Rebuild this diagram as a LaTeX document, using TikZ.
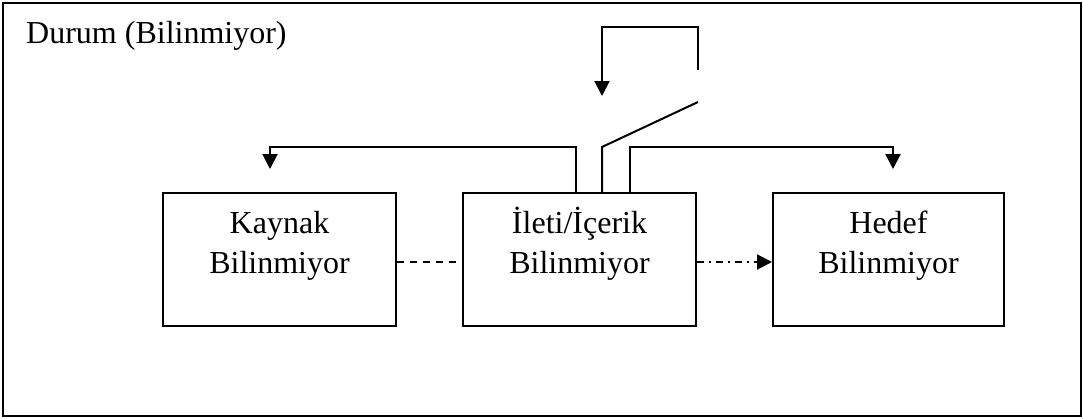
\documentclass[tikz,border=0pt]{standalone}
\usepackage{fontspec}
\setmainfont{Liberation Serif}
\usetikzlibrary{arrows.meta}
\begin{document}
\begin{tikzpicture}[x=1pt,y=-1pt,
  box/.style={draw,line width=2pt,minimum width=233pt,minimum height=133pt,inner sep=0pt},
  txt/.style={anchor=base,inner sep=0pt,font=\fontsize{32}{39}\selectfont},
  ln/.style={line width=2pt},
  tip/.style={-{Triangle[width=15pt,length=15pt]}}]
\useasboundingbox (0,0) rectangle (1083,418);
\draw[line width=2pt] (2.5,2.5) rectangle (1081,416);
\node[txt,anchor=base west] (title) at (26,43.5) {Durum (Bilinmiyor)};
\node[box] (src) at (279.5,259.5) {};
\node[box] (msg) at (579.5,259.5) {};
\node[box,minimum width=231pt] (dst) at (888.5,259.5) {};
\node[txt] (src1) at (279.5,233.5) {Kaynak};
\node[txt] (src2) at (279.5,273) {Bilinmiyor};
\node[txt] (msg1) at (579.5,233.5) {İleti/İçerik};
\node[txt] (msg2) at (579.5,273) {Bilinmiyor};
\node[txt] (dst1) at (888.5,233.5) {Hedef};
\node[txt] (dst2) at (888.5,273) {Bilinmiyor};
% bottom connectors
\draw[ln,dash pattern=on 7pt off 6pt] (src.east |- 0,262) -- (msg.west |- 0,262);
\draw[ln,dash pattern=on 7pt off 5pt on 2pt off 5pt,tip] (msg.east |- 0,262) -- (dst.west |- 0,262);
% upper feedback lines
\coordinate (a) at (576,193);
\coordinate (b) at (602,193);
\coordinate (c) at (630,193);
\coordinate (lt) at (270,147);
\coordinate (rt) at (893,147);
\draw[ln,tip] (a) -- (a |- lt) -- (lt) -- (270,169);
\draw[ln,tip] (c) -- (c |- rt) -- (rt) -- (893,169);
\draw[ln] (b) -- (602,147) -- (698,102);
\draw[ln,tip] (698,70) -- (698,27) -- (602,27) -- (602,96);
\end{tikzpicture}
\end{document}
